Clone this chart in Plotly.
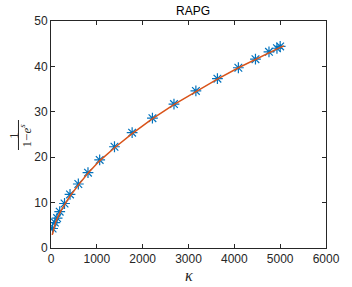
import plotly.graph_objects as go

# measured points
kappa = [35, 84, 133, 190, 295, 415, 596, 807, 1062, 1385, 1770, 2213, 2683, 3161, 3631, 4088, 4461, 4756, 4930, 5000]
value = [4.3, 5.6, 6.6, 8.0, 9.8, 11.8, 14.1, 16.6, 19.4, 22.3, 25.4, 28.6, 31.7, 34.6, 37.3, 39.7, 41.6, 43.2, 44.0, 44.4]

# fitted curve
fit_x = [27, 60, 100, 150, 200, 300, 420, 600, 800, 1060, 1400, 1770, 2200, 2680, 3160, 3630, 4090, 4460, 4760, 5000, 5080]
fit_y = [2.9, 4.4, 5.6, 6.8, 7.9, 9.6, 11.5, 13.9, 16.4, 19.2, 22.2, 25.2, 28.4, 31.6, 34.5, 37.2, 39.7, 41.6, 43.1, 44.2, 44.5]

x_ticks = [0, 1000, 2000, 3000, 4000, 5000, 6000]
y_ticks = [0, 10, 20, 30, 40, 50]

fig = go.Figure()
fig.add_trace(go.Scatter(x=kappa, y=value, mode="markers",
                         marker=dict(symbol="asterisk-open", size=9, color="#0072BD",
                                     line=dict(color="#0072BD", width=1.2)),
                         showlegend=False))
fig.add_trace(go.Scatter(x=fit_x, y=fit_y, mode="lines",
                         line=dict(color="#D95319", width=1.5),
                         showlegend=False))

axis_common = dict(showgrid=False, zeroline=False, showline=True, linecolor="#262626",
                   linewidth=1, mirror="ticks", ticks="inside", ticklen=4,
                   tickcolor="#262626", tickfont=dict(family="Liberation Sans", size=12, color="#262626"))
fig.update_xaxes(range=[0, 6000], tickvals=x_ticks, **axis_common)
fig.update_yaxes(range=[0, 50], tickvals=y_ticks, **axis_common)

fig.update_layout(
    width=352, height=287,
    margin=dict(l=51, r=16, t=21, b=39),
    plot_bgcolor="white", paper_bgcolor="white",
    title=dict(text="RAPG", x=193/352, xanchor="center", y=1-11/287, yanchor="middle",
               font=dict(family="Liberation Sans", size=12, color="black")),
    annotations=[
        dict(text="<i>κ</i>", xref="paper", yref="paper", x=0.5, y=-(275-248)/227,
             xanchor="center", yanchor="middle", showarrow=False,
             font=dict(family="Liberation Serif", size=16, color="#262626")),
        dict(text="1", xref="paper", yref="paper", x=(11.5-51)/285, y=(248-135)/227,
             xanchor="center", yanchor="middle", showarrow=False, textangle=-90,
             font=dict(family="Liberation Serif", size=13, color="#262626")),
        dict(text="1−<i>e</i><sup><i>s</i></sup>", xref="paper", yref="paper", x=(24.5-51)/285, y=(248-135)/227,
             xanchor="center", yanchor="middle", showarrow=False, textangle=-90,
             font=dict(family="Liberation Serif", size=13, color="#262626")),
    ],
    shapes=[
        dict(type="line", xref="paper", yref="paper", x0=(17.3-51)/285, x1=(17.3-51)/285,
             y0=(248-150)/227, y1=(248-120)/227, line=dict(color="#262626", width=1)),
    ],
)

fig.write_html("out.html", config={"displayModeBar": False},
               post_script="document.body.style.margin='0';document.body.style.overflow='hidden';")
